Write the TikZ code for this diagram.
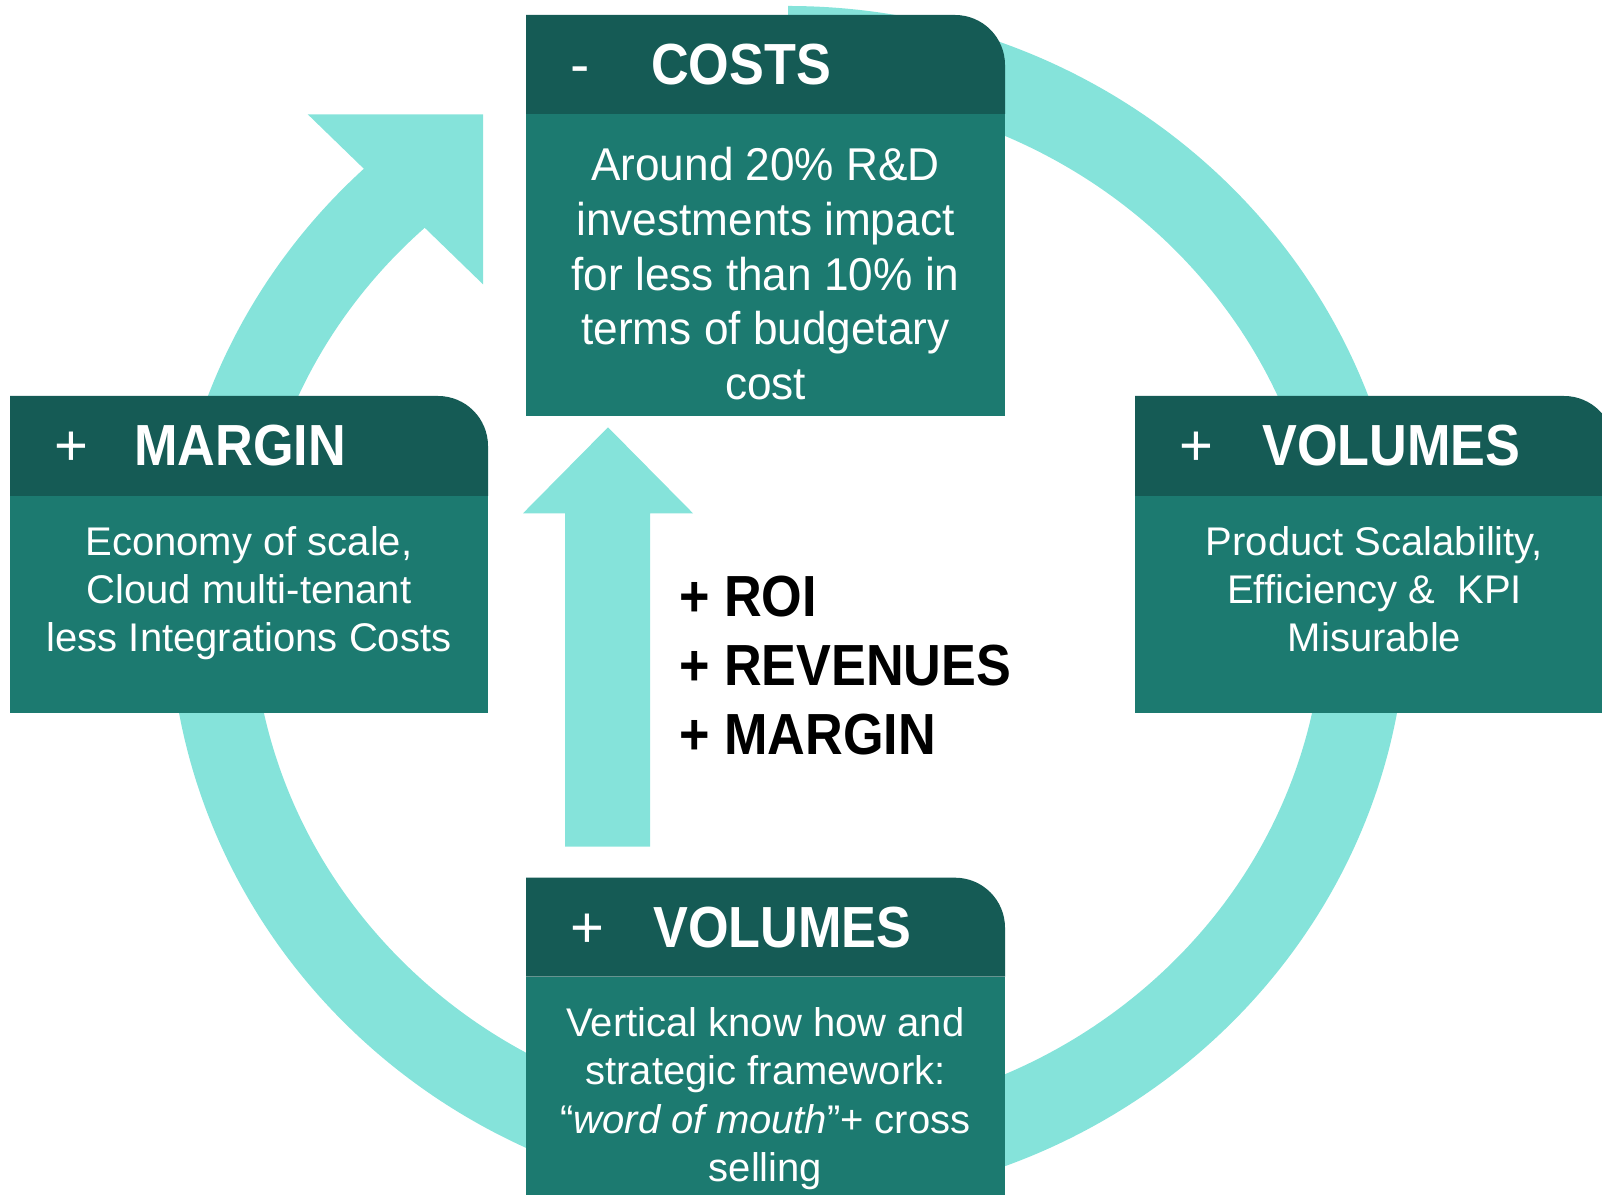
\documentclass[tikz,border=0pt]{standalone}
\usepackage{fontspec}
\setmainfont{Liberation Sans}
\newfontfamily\headfont{Liberation Sans}[FakeStretch=0.9]
\newfontfamily\costsfont{Liberation Sans}[FakeStretch=0.96]
\usetikzlibrary{calc, positioning}
\definecolor{ringcyan}{RGB}{133,227,218}
\definecolor{headteal}{RGB}{21,91,85}
\definecolor{bodyteal}{RGB}{28,122,112}

\begin{document}
\begin{tikzpicture}[x=1pt, y=1pt,
    signtxt/.style={anchor=base west, inner sep=0pt, text=white, font=\fontsize{58}{60}\selectfont},
    headtxt/.style={anchor=base west, inner sep=0pt, text=white, font=\headfont\bfseries\fontsize{58}{60}\selectfont},
    bodybox/.style={fill=bodyteal, anchor=north west, minimum width=479pt, inner sep=0pt, outer sep=0pt},
    bodytxt/.style={anchor=north, inner sep=0pt, text=white, align=center, font=\fontsize{40}{48.3}\selectfont}]
    \useasboundingbox (0,0) rectangle (1602,1194);
    \clip (0,0) rectangle (1602,1194);

    % cycle ring with its arrow head
    \coordinate (ringc) at (788,589);
    \fill[ringcyan] (ringc) ++(90:619pt and 599pt)
        arc[start angle=90, end angle=-227.3, x radius=619pt, y radius=599pt]
        -- ($(ringc)+(-228:536pt and 513pt)$)
        arc[start angle=-228, end angle=90, x radius=536pt, y radius=513pt] -- cycle;
    \fill[ringcyan] (307.7,1079.7) -- (483,1079.7) -- (483,909.7) -- cycle;

    % straight arrow in the middle
    \fill[ringcyan] (565,347.3) -- (565,680.7) -- (523,680.7) -- (608,766.7)
        -- (693,680.7) -- (650,680.7) -- (650,347.3) -- cycle;

    % costs
    \fill[headteal] (526,1080) -- (526,1179) -- (955,1179) arc[start angle=90, end angle=0, radius=50pt] -- (1005,1080) -- cycle;
    \node[bodybox, minimum height=302pt] (costsbody) at (526,1080) {};
    \node[signtxt] (costssign) at (570,1109.7) {-};
    \node[headtxt] (coststitle) at (651,1109.7) {COSTS};
    \node[bodytxt, font=\costsfont\fontsize{46}{54.8}\selectfont] (coststxt) at (765.5,1047) {Around 20\% R\&D\\investments impact\\for less than 10\% in\\terms of budgetary\\cost};

    % margin
    \fill[headteal] (10,698) -- (10,798) -- (438,798) arc[start angle=90, end angle=0, radius=50pt] -- (488,698) -- cycle;
    \node[bodybox, minimum height=217pt, minimum width=478pt] (marginbody) at (10,698) {};
    \node[signtxt] (marginsign) at (54,728) {+};
    \node[headtxt] (margintitle) at (134,728) {MARGIN};
    \node[bodytxt] (margintxt) at (249,668) {Economy of scale,\\Cloud multi-tenant\\less Integrations Costs};

    % volumes, right
    \fill[headteal] (1135,698) -- (1135,798) -- (1564,798) arc[start angle=90, end angle=0, radius=50pt] -- (1614,698) -- cycle;
    \node[bodybox, minimum height=217pt] (volbody) at (1135,698) {};
    \node[signtxt] (volsign) at (1179,728) {+};
    \node[headtxt] (voltitle) at (1262,728) {VOLUMES};
    \node[bodytxt] (voltxt) at (1374.5,668) {Product Scalability,\\Efficiency \& \ KPI\\Misurable};

    % volumes, bottom
    \fill[headteal] (526,217.3) -- (526,316.3) -- (955,316.3) arc[start angle=90, end angle=0, radius=50pt] -- (1005,217.3) -- cycle;
    \node[bodybox, minimum height=230pt] (botbody) at (526,217.3) {};
    \node[signtxt] (botsign) at (570,246.7) {+};
    \node[headtxt] (bottitle) at (653,246.7) {VOLUMES};
    \node[bodytxt] (bottxt) at (765.5,186.5) {Vertical know how and\\strategic framework:\\“\textit{word of mouth}”+ cross\\selling};

    % gains
    \node[anchor=north west, inner sep=0pt, align=left, font=\headfont\bfseries\fontsize{58}{69}\selectfont] (gains) at (679,618) {+ ROI\\+ REVENUES\\+ MARGIN};
\end{tikzpicture}
\end{document}
